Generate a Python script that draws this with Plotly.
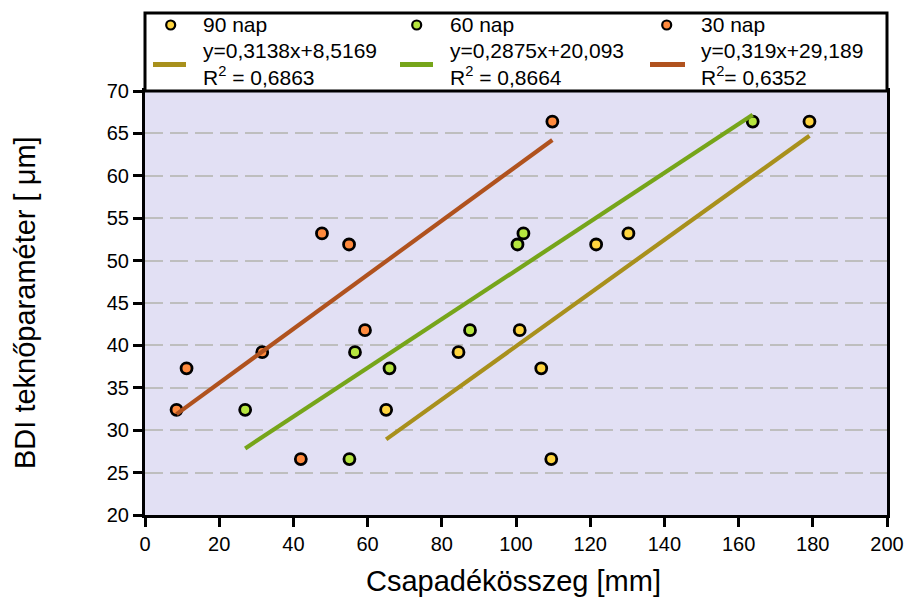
import plotly.graph_objects as go

# ---- data ----
bdi = [66.4, 53.2, 51.9, 41.8, 39.2, 37.3, 32.4, 26.6]
x_90 = [179.1, 130.3, 121.6, 101.0, 84.5, 106.8, 65.0, 109.5]
x_60 = [163.8, 102.0, 100.4, 87.6, 56.6, 65.9, 27.0, 55.1]
x_30 = [109.8, 47.7, 55.0, 59.3, 31.6, 11.2, 8.5, 42.0]

series_names = ["90 nap", "60 nap", "30 nap"]
slopes = [0.3138, 0.2875, 0.319]
intercepts = [8.5169, 20.093, 29.189]
eq_labels = ["y=0,3138x+8,5169", "y=0,2875x+20,093", "y=0,319x+29,189"]
r2_labels = ["R<sup>2</sup> = 0,6863", "R<sup>2</sup> = 0,8664", "R<sup>2</sup>= 0,6352"]

x_ticks = list(range(0, 201, 20))
y_ticks = list(range(20, 71, 5))

# ---- styles ----
marker_colors = ["#FFD53F", "#B6E63E", "#FF8A3D"]
line_colors = ["#A8901C", "#76A51A", "#B0521E"]
FONT = "Liberation Sans, Arial, sans-serif"

W, H = 904, 598
ML, MR, MT, MB = 145, 17, 91, 83
PW, PH = W - ML - MR, H - MT - MB


def px(x):
    return (x - ML) / PW


def py(y):
    return (H - MB - y) / PH


fig = go.Figure()
xs_all = [x_90, x_60, x_30]
for xs, name, col in zip(xs_all, series_names, marker_colors):
    fig.add_trace(go.Scatter(
        x=xs, y=bdi, mode="markers", name=name, showlegend=False,
        marker=dict(size=11, color=col, line=dict(color="black", width=2.8)),
    ))
for xs, a, b, col in zip(xs_all, slopes, intercepts, line_colors):
    x0, x1 = min(xs), max(xs)
    fig.add_trace(go.Scatter(
        x=[x0, x1], y=[a * x0 + b, a * x1 + b], mode="lines", showlegend=False,
        line=dict(color=col, width=4.2),
    ))

shapes = []
annotations = []
# legend box
shapes.append(dict(type="rect", xref="paper", yref="paper",
                   x0=px(145), x1=px(887), y0=py(91), y1=py(13),
                   fillcolor="white", line=dict(color="black", width=3), layer="above"))
col_marker_x = [170.7, 416.7, 666.7]
col_line_x = [(153, 186), (400, 433), (650, 685)]
col_text_x = [201, 448, 699]
for i in range(3):
    mx = col_marker_x[i]
    shapes.append(dict(type="circle", xref="paper", yref="paper",
                       x0=px(mx - 4.5), x1=px(mx + 4.5), y0=py(25 + 4.5), y1=py(25 - 4.5),
                       fillcolor=marker_colors[i], line=dict(color="black", width=2.2), layer="above"))
    lx0, lx1 = col_line_x[i]
    shapes.append(dict(type="line", xref="paper", yref="paper",
                       x0=px(lx0), x1=px(lx1), y0=py(64.5), y1=py(64.5),
                       line=dict(color=line_colors[i], width=5), layer="above"))
    for txt, yy in zip([series_names[i], eq_labels[i], r2_labels[i]], [25, 50, 76]):
        annotations.append(dict(text=txt, xref="paper", yref="paper",
                                x=px(col_text_x[i]), y=py(yy), xanchor="left", yanchor="middle",
                                showarrow=False, font=dict(family=FONT, size=21, color="black")))

# axis titles
annotations.append(dict(text="BDI teknőparaméter [ μm]", xref="paper", yref="paper",
                        x=px(25), y=py(303), textangle=-90, xanchor="center", yanchor="middle",
                        showarrow=False, font=dict(family=FONT, size=29, color="black")))
annotations.append(dict(text="Csapadékösszeg [mm]", xref="paper", yref="paper",
                        x=px(513), y=py(581), xanchor="center", yanchor="middle",
                        showarrow=False, font=dict(family=FONT, size=29, color="black")))

axis_common = dict(
    showline=True, linecolor="black", linewidth=3, mirror=True,
    ticks="outside", ticklen=9, tickwidth=2.5, tickcolor="black",
    tickfont=dict(family=FONT, size=20, color="black"),
    zeroline=False,
)

fig.update_layout(
    width=W, height=H,
    margin=dict(l=ML, r=MR, t=MT, b=MB, autoexpand=False),
    paper_bgcolor="white",
    plot_bgcolor="#E2E0F4",
    shapes=shapes,
    annotations=annotations,
    xaxis=dict(range=[0, 200], tickvals=x_ticks, showgrid=False, **axis_common),
    yaxis=dict(range=[20, 70], tickvals=y_ticks, showgrid=True, gridcolor="#BEBEBE",
               gridwidth=2, griddash="18px,7px", **axis_common),
    font=dict(family=FONT),
)

fig.write_html("out.html")
